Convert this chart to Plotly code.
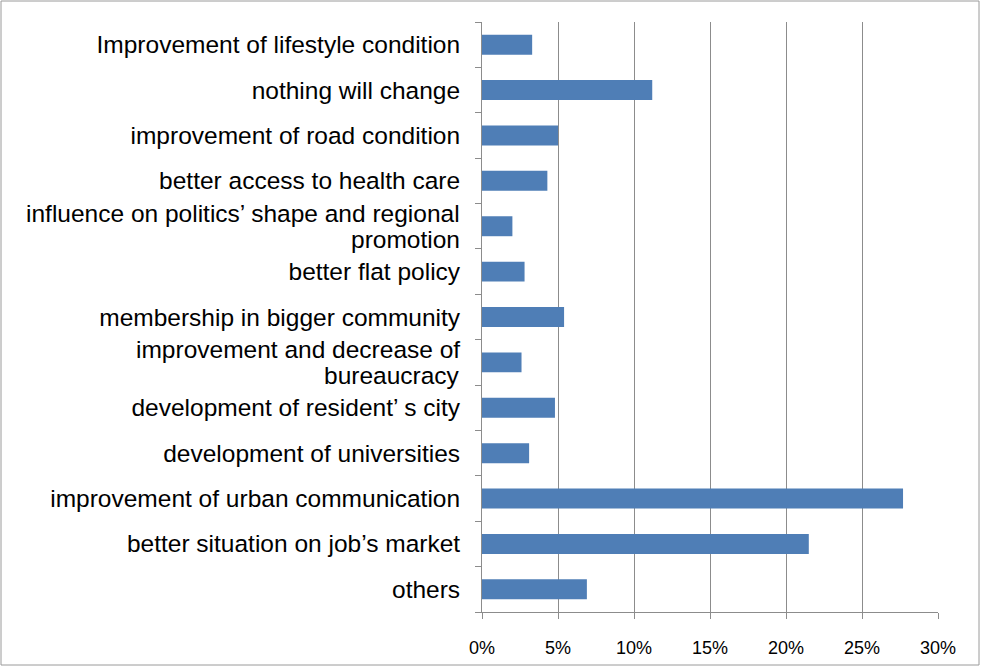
import plotly.graph_objects as go

# Survey answers, listed top to bottom as they appear on the chart
categories = [
    "Improvement of lifestyle condition",
    "nothing will change",
    "improvement of road condition",
    "better access to health care",
    "influence on politics’ shape and regional promotion",
    "better flat policy",
    "membership in bigger community",
    "improvement and decrease of bureaucracy",
    "development of resident’ s city",
    "development of universities",
    "improvement of urban communication",
    "better situation on job’s market",
    "others",
]
# Long answers are wrapped onto two lines
wrapped_labels = {
    "influence on politics’ shape and regional promotion":
        ["influence on politics’ shape and regional", "promotion"],
    "improvement and decrease of bureaucracy":
        ["improvement and decrease of", "bureaucracy"],
}
shares = [0.033, 0.112, 0.050, 0.043, 0.020, 0.028, 0.054, 0.026, 0.048, 0.031, 0.277, 0.215, 0.069]
x_ticks = [0, 0.05, 0.10, 0.15, 0.20, 0.25, 0.30]
x_tick_labels = ["0%", "5%", "10%", "15%", "20%", "25%", "30%"]

W, H = 981, 668
L, R, T, B = 482, 43, 22, 56
pw, ph = W - L - R, H - T - B

LABEL_FONT = dict(family="Liberation Sans, Arial, sans-serif", size=24.5, color="black")
LABEL_GAP = 22  # px between label right edge and the value axis

fig = go.Figure(go.Bar(
    x=shares,
    y=categories,
    orientation="h",
    marker=dict(color="#4F7EB6", line=dict(width=0)),
))

grid = "#8C8C8C"
fig.update_layout(
    width=W, height=H,
    margin=dict(l=L, r=R, t=T, b=B, autoexpand=False),
    paper_bgcolor="white",
    plot_bgcolor="white",
    bargap=0.56,
    showlegend=False,
    font=dict(family="Liberation Sans, Arial, sans-serif", color="black"),
    xaxis=dict(
        range=[0, 0.30],
        tickvals=x_ticks,
        ticktext=x_tick_labels,
        showgrid=True, gridcolor=grid, gridwidth=1,
        showline=True, linecolor=grid, linewidth=1,
        ticks="outside", ticklen=6, tickcolor=grid,
        tickfont=dict(family="Liberation Sans, sans-serif", size=18, color="black"),
        ticklabelstandoff=13,
        zeroline=False,
        automargin=False,
        fixedrange=True,
    ),
    yaxis=dict(
        type="category",
        autorange="reversed",
        tickvals=categories,
        ticktext=["" if c in wrapped_labels else c for c in categories],
        showline=True, linecolor=grid, linewidth=1,
        ticks="outside", ticklen=6, tickcolor=grid,
        tickson="boundaries",
        tickfont=LABEL_FONT,
        ticklabelstandoff=LABEL_GAP - 6,
        showgrid=False,
        automargin=False,
        fixedrange=True,
    ),
)

# Two-line category labels, right-aligned with the others
for cat, lines in wrapped_labels.items():
    for line, shift in zip(lines, (13, -13)):
        fig.add_annotation(
            xref="paper", yref="y", x=-(LABEL_GAP - 1) / pw, y=cat,
            text=line, showarrow=False, xanchor="right", yanchor="middle",
            yshift=shift, font=LABEL_FONT, borderpad=0,
        )

# Thin frame around the whole chart
def px_x(v):
    return (v - L) / pw

def px_y(v):
    return (H - B - v) / ph

fig.add_shape(
    type="rect", xref="paper", yref="paper",
    x0=px_x(1), x1=px_x(979), y0=px_y(665), y1=px_y(1),
    line=dict(color="#9A9A9A", width=1), fillcolor="rgba(0,0,0,0)",
    layer="below",
)

fig.write_html("out.html")
